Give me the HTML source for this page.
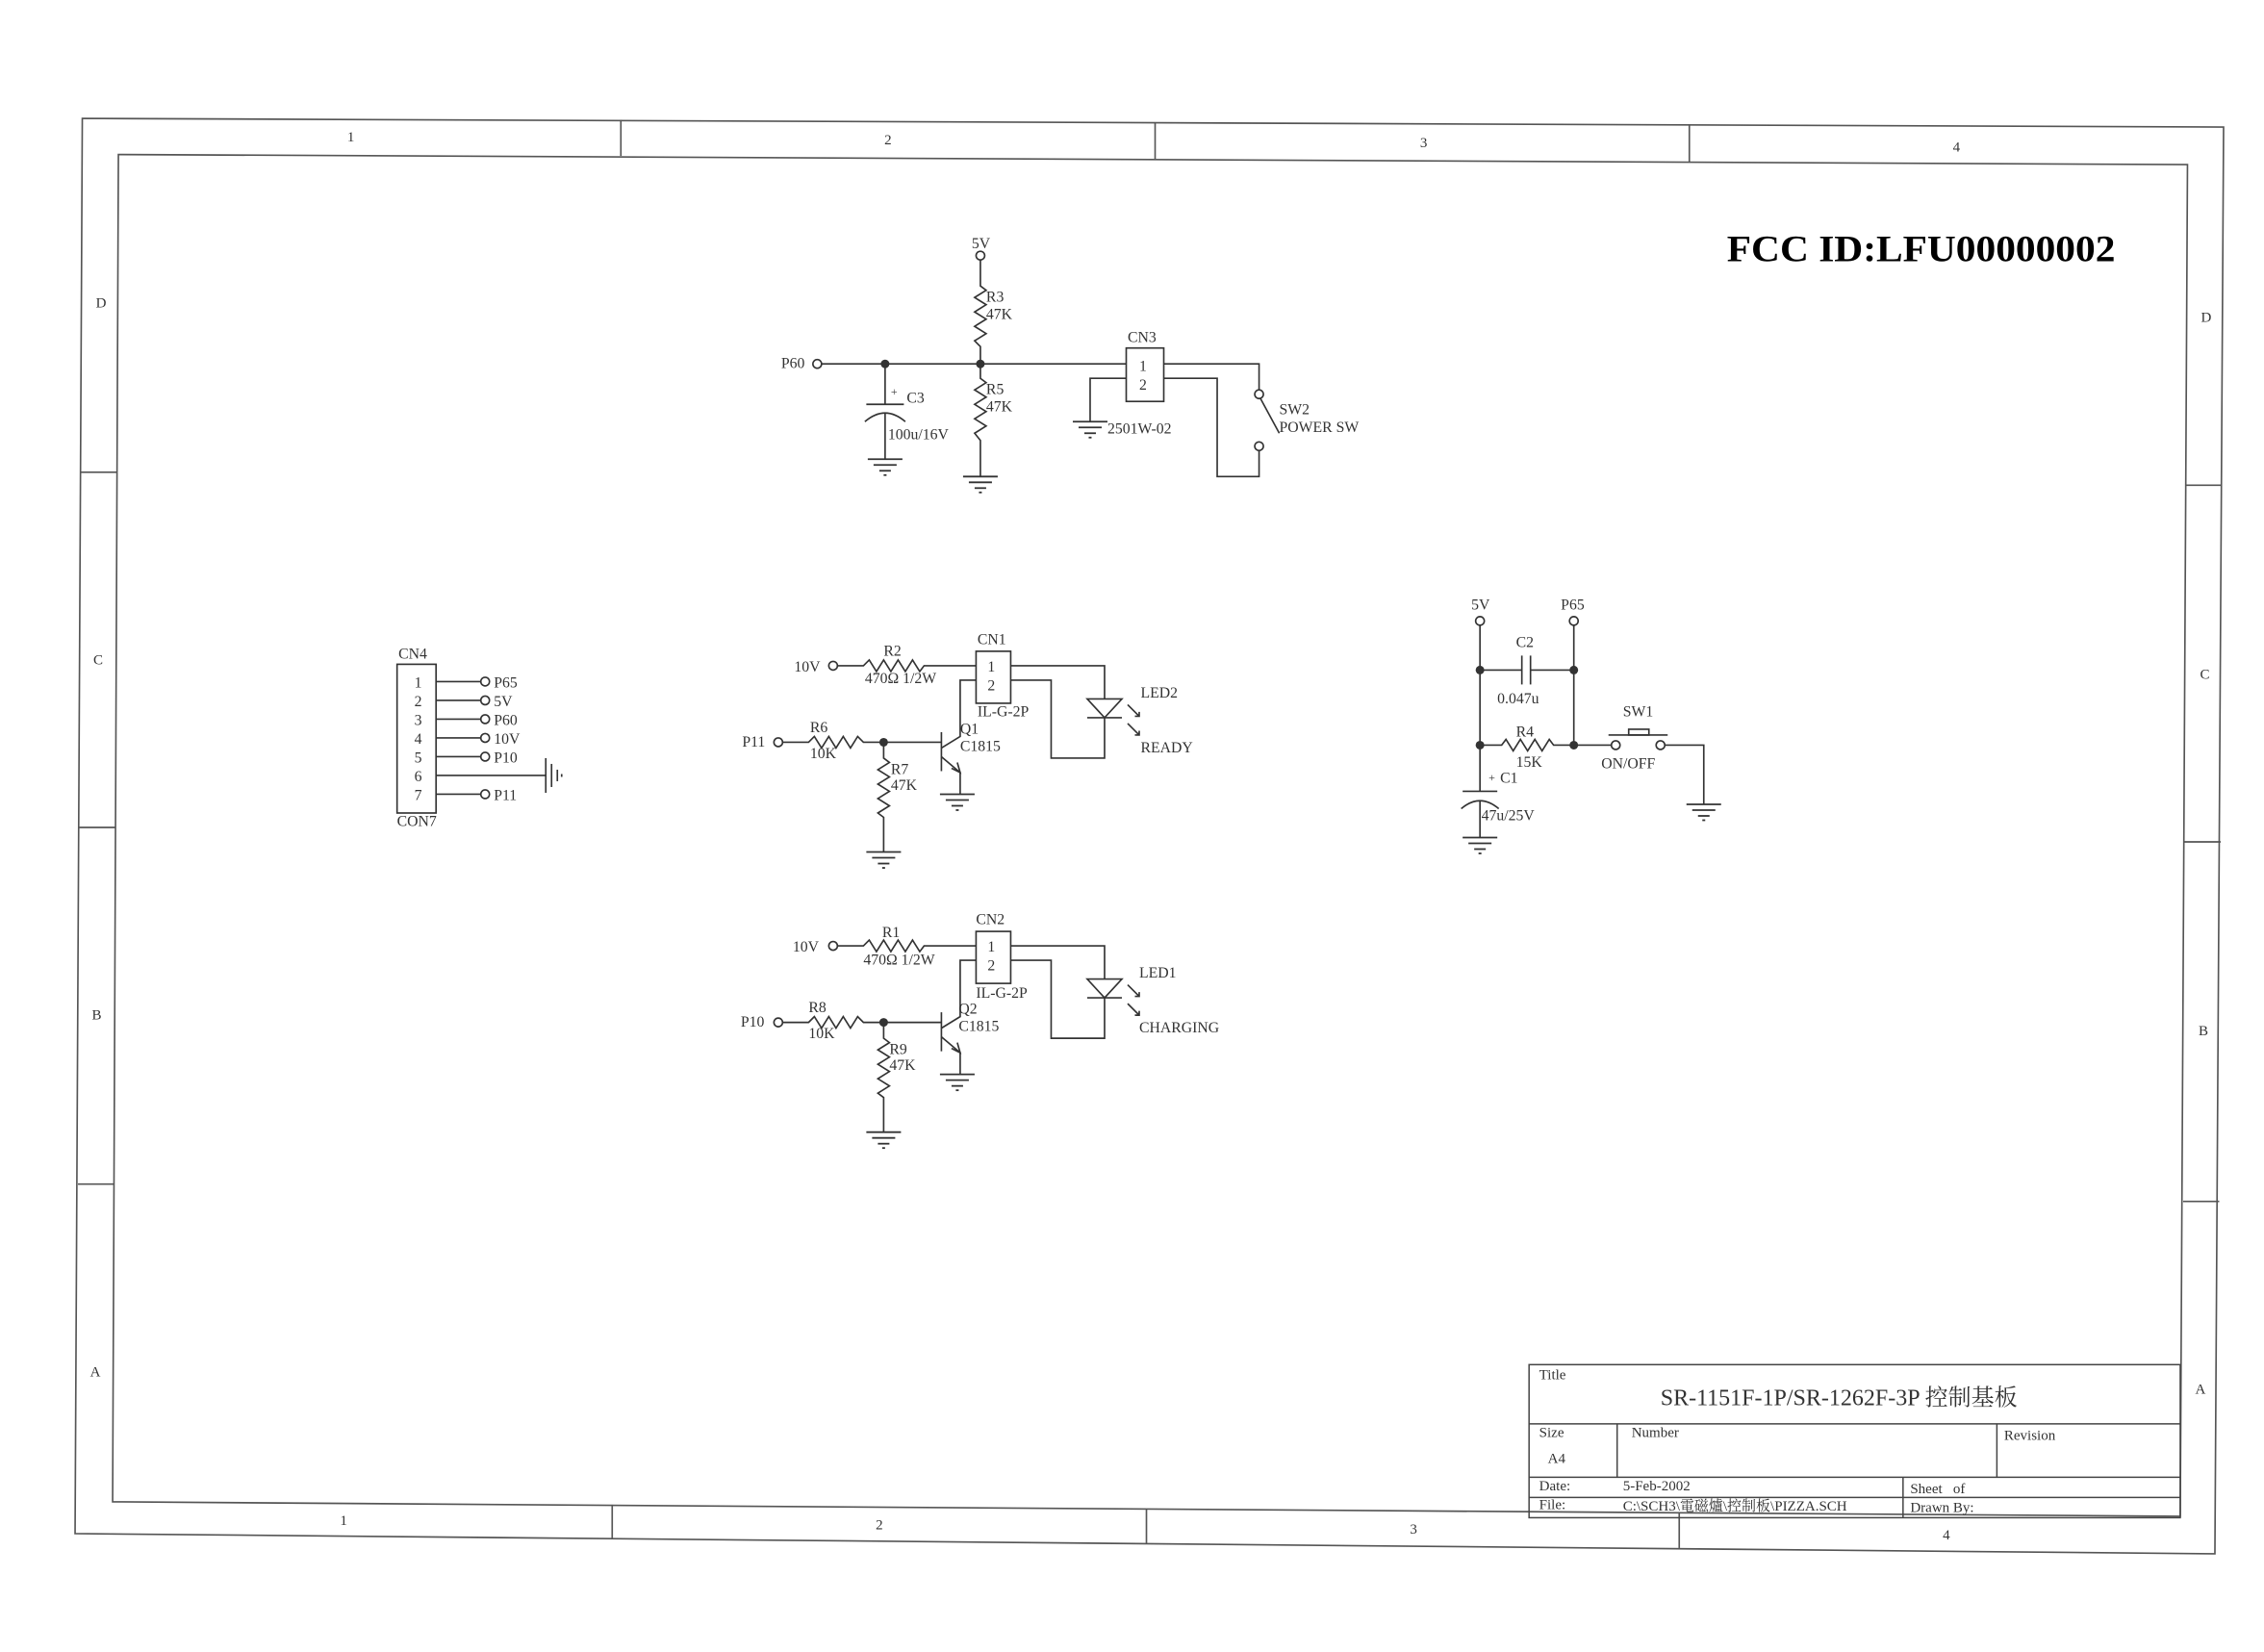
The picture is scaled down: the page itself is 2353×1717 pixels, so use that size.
<!DOCTYPE html>
<html><head><meta charset="utf-8"><style>
html,body{margin:0;padding:0;background:#fff;}
svg{display:block;}
text{font-family:"Liberation Serif","Noto Serif CJK SC",serif;fill:#333;}
</style></head><body>
<svg width="2353" height="1717" viewBox="0 0 1568 1144" preserveAspectRatio="none" xmlns="http://www.w3.org/2000/svg">
<defs>
<g id="gnd" stroke="#333" stroke-width="1.2" fill="none">
<line x1="-12" y1="0" x2="12" y2="0"/><line x1="-8" y1="4" x2="8" y2="4"/><line x1="-4" y1="8" x2="4" y2="8"/><line x1="-1" y1="11" x2="1" y2="11"/>
</g>
</defs>
<g stroke="#555" stroke-width="1.1" fill="none">
<polygon points="57,82 1540,88 1534,1076 52,1062"/>
<polygon points="82,107 1515,114 1510,1050 78,1040"/>
<line x1="430" y1="83" x2="430" y2="108"/><line x1="800" y1="85" x2="800" y2="110"/><line x1="1170" y1="86" x2="1170" y2="112"/>
<line x1="424" y1="1042" x2="424" y2="1066"/><line x1="794" y1="1045" x2="794" y2="1069"/><line x1="1163" y1="1047" x2="1163" y2="1072"/>
<line x1="56" y1="327" x2="81" y2="327"/><line x1="55" y1="573" x2="80" y2="573"/><line x1="54" y1="820" x2="79" y2="820"/>
<line x1="1514" y1="336" x2="1539" y2="336"/><line x1="1513" y1="583" x2="1538" y2="583"/><line x1="1512" y1="832" x2="1537" y2="832"/>
</g>
<g font-size="10" text-anchor="middle">
<text x="243" y="98">1</text><text x="615" y="100">2</text><text x="986" y="102">3</text><text x="1355" y="105">4</text>
<text x="238" y="1056">1</text><text x="609" y="1059">2</text><text x="979" y="1062">3</text><text x="1348" y="1066">4</text>
<text x="70" y="213">D</text><text x="68" y="460">C</text><text x="67" y="706">B</text><text x="66" y="953">A</text>
<text x="1528" y="223">D</text><text x="1527" y="470">C</text><text x="1526" y="717">B</text><text x="1524" y="965">A</text>
</g>
<text x="1196" y="181" font-size="26" font-weight="bold" textLength="269" lengthAdjust="spacingAndGlyphs" style="fill:#000">FCC ID:LFU00000002</text>

<!-- Title block -->
<g stroke="#444" stroke-width="1" fill="none">
<rect x="1059" y="945" width="451" height="106"/>
<line x1="1059" y1="986" x2="1510" y2="986"/><line x1="1059" y1="1023" x2="1510" y2="1023"/><line x1="1059" y1="1037" x2="1510" y2="1037"/>
<line x1="1120" y1="986" x2="1120" y2="1023"/><line x1="1383" y1="986" x2="1383" y2="1023"/><line x1="1318" y1="1023" x2="1318" y2="1051"/>
</g>
<g font-size="10">
<text x="1066" y="955">Title</text>
<text x="1150" y="973" font-size="16">SR-1151F-1P/SR-1262F-3P 控制基板</text>
<text x="1066" y="995">Size</text><text x="1130" y="995">Number</text><text x="1388" y="997">Revision</text>
<text x="1072" y="1013">A4</text>
<text x="1066" y="1032">Date:</text><text x="1124" y="1032">5-Feb-2002</text><text x="1323" y="1034">Sheet&#160;&#160;&#160;of</text>
<text x="1066" y="1045">File:</text><text x="1124" y="1046">C:\SCH3\電磁爐\控制板\PIZZA.SCH</text><text x="1323" y="1047">Drawn By:</text>
</g>

<!-- Schematic -->
<g stroke="#333" stroke-width="1.1" fill="none">
<circle cx="679" cy="177" r="3"/>
<polyline points="679,180 679,198 683,201 675,206 683,211 675,216 683,221 675,226 683,231 675,236 679,240 679,262 683,265 675,270 683,275 675,280 683,285 675,290 683,295 675,300 679,305 679,330"/>
<circle cx="566" cy="252" r="3"/>
<line x1="569" y1="252" x2="780" y2="252"/>
<line x1="613" y1="252" x2="613" y2="280"/>
<line x1="600" y1="280" x2="626" y2="280"/>
<path d="M599,292 Q613,280 627,292"/>
<line x1="613" y1="286" x2="613" y2="318"/>
<rect x="780" y="241" width="26" height="37"/>
<polyline points="806,252 872,252 872,270"/><circle cx="872" cy="273" r="3"/>
<polyline points="806,262 843,262 843,330 872,330 872,312"/><circle cx="872" cy="309" r="3"/>
<line x1="873" y1="276" x2="886" y2="300"/>
<polyline points="780,262 755,262 755,292"/>
<g id="drv">
<circle cx="577" cy="461" r="3"/>
<polyline points="580,461 598,461 602,457 607,465 612,457 617,465 622,457 627,465 632,457 637,465 640,461 676,461"/>
<rect x="676" y="451" width="24" height="36"/>
<polyline points="700,461 765,461 765,484"/>
<polygon points="753,484 777,484 765,497"/>
<line x1="753" y1="497" x2="777" y2="497"/>
<polyline points="765,497 765,525 728,525 728,471 700,471"/>
<polyline points="676,471 665,471 665,510 652,518"/>
<line x1="652" y1="507" x2="652" y2="534"/>
<polyline points="652,524 665,535 665,550"/>
<polyline points="659,532 665,535 663,528"/>
<circle cx="539" cy="514" r="3"/>
<polyline points="542,514 560,514 564,510 569,518 574,510 579,518 584,510 589,518 594,510 598,514 652,514"/>
<polyline points="612,514 612,525 616,528 608,533 616,538 608,543 616,548 608,553 616,558 608,563 612,566 612,590"/>
<use href="#gnd" x="663" y="550"/>
<use href="#gnd" x="612" y="590"/>
<path d="M781,488 l8,8 m-3,0 h3 v-3 M781,501 l8,8 m-3,0 h3 v-3"/>
</g>
<use href="#drv" y="194"/>
<rect x="275" y="460" width="27" height="103"/>
<line x1="302" y1="472" x2="333" y2="472"/><circle cx="336" cy="472" r="3"/>
<line x1="302" y1="485" x2="333" y2="485"/><circle cx="336" cy="485" r="3"/>
<line x1="302" y1="498" x2="333" y2="498"/><circle cx="336" cy="498" r="3"/>
<line x1="302" y1="511" x2="333" y2="511"/><circle cx="336" cy="511" r="3"/>
<line x1="302" y1="524" x2="333" y2="524"/><circle cx="336" cy="524" r="3"/>
<line x1="302" y1="537" x2="378" y2="537"/>
<line x1="378" y1="525" x2="378" y2="549"/><line x1="382" y1="529" x2="382" y2="545"/><line x1="386" y1="533" x2="386" y2="541"/><line x1="389" y1="536" x2="389" y2="538"/>
<line x1="302" y1="550" x2="333" y2="550"/><circle cx="336" cy="550" r="3"/>
<circle cx="1025" cy="430" r="3"/><circle cx="1090" cy="430" r="3"/>
<line x1="1025" y1="433" x2="1025" y2="548"/>
<line x1="1090" y1="433" x2="1090" y2="516"/>
<line x1="1025" y1="464" x2="1054" y2="464"/><line x1="1060" y1="464" x2="1090" y2="464"/>
<line x1="1054" y1="454" x2="1054" y2="474"/><line x1="1060" y1="454" x2="1060" y2="474"/>
<polyline points="1025,516 1040,516 1043,512 1048,520 1053,512 1058,520 1063,512 1068,520 1073,512 1076,516 1116,516"/>
<circle cx="1119" cy="516" r="3"/><circle cx="1150" cy="516" r="3"/>
<polyline points="1153,516 1180,516 1180,557"/>
<line x1="1114" y1="509" x2="1155" y2="509"/><rect x="1128" y="505" width="14" height="4"/>
<line x1="1013" y1="548" x2="1037" y2="548"/>
<path d="M1012,560 Q1025,549 1038,560"/>
<line x1="1025" y1="554" x2="1025" y2="580"/>
</g>
<use href="#gnd" x="679" y="330"/><use href="#gnd" x="613" y="318"/><use href="#gnd" x="755" y="292"/>
<use href="#gnd" x="1180" y="557"/><use href="#gnd" x="1025" y="580"/>
<g fill="#333">
<circle cx="613" cy="252" r="3"/><circle cx="679" cy="252" r="3"/>
<circle cx="612" cy="514" r="3"/><circle cx="612" cy="708" r="3"/>
<circle cx="1025" cy="464" r="3"/><circle cx="1090" cy="464" r="3"/><circle cx="1025" cy="516" r="3"/><circle cx="1090" cy="516" r="3"/>
</g>
<g font-size="10.5">
<text x="673" y="172">5V</text>
<text x="683" y="209">R3</text><text x="683" y="221">47K</text>
<text x="683" y="273">R5</text><text x="683" y="285">47K</text>
<text x="541" y="255">P60</text>
<text x="617" y="274" font-size="8">+</text><text x="628" y="279">C3</text><text x="615" y="304">100u/16V</text>
<text x="781" y="237">CN3</text><text x="789" y="257">1</text><text x="789" y="270">2</text>
<text x="767" y="300">2501W-02</text>
<text x="886" y="287">SW2</text><text x="886" y="299">POWER SW</text>

<text x="550" y="465">10V</text><text x="612" y="454">R2</text><text x="599" y="473">470Ω 1/2W</text>
<text x="677" y="446">CN1</text><text x="684" y="465">1</text><text x="684" y="478">2</text><text x="677" y="496">IL-G-2P</text>
<text x="790" y="483">LED2</text><text x="790" y="521">READY</text>
<text x="514" y="517">P11</text><text x="561" y="507">R6</text><text x="561" y="525">10K</text>
<text x="617" y="536">R7</text><text x="617" y="547">47K</text>
<text x="665" y="508">Q1</text><text x="665" y="520">C1815</text>

<text x="549" y="659">10V</text><text x="611" y="649">R1</text><text x="598" y="668">470Ω 1/2W</text>
<text x="676" y="640">CN2</text><text x="684" y="659">1</text><text x="684" y="672">2</text><text x="676" y="691">IL-G-2P</text>
<text x="789" y="677">LED1</text><text x="789" y="715">CHARGING</text>
<text x="513" y="711">P10</text><text x="560" y="701">R8</text><text x="560" y="719">10K</text>
<text x="616" y="730">R9</text><text x="616" y="741">47K</text>
<text x="664" y="702">Q2</text><text x="664" y="714">C1815</text>

<text x="276" y="456">CN4</text><text x="275" y="572">CON7</text>
<text x="287" y="476">1</text><text x="287" y="489">2</text><text x="287" y="502">3</text><text x="287" y="515">4</text><text x="287" y="528">5</text><text x="287" y="541">6</text><text x="287" y="554">7</text>
<text x="342" y="476">P65</text><text x="342" y="489">5V</text><text x="342" y="502">P60</text><text x="342" y="515">10V</text><text x="342" y="528">P10</text><text x="342" y="554">P11</text>

<text x="1019" y="422">5V</text><text x="1081" y="422">P65</text>
<text x="1050" y="448">C2</text><text x="1037" y="487">0.047u</text>
<text x="1050" y="510">R4</text><text x="1050" y="531">15K</text>
<text x="1124" y="496">SW1</text><text x="1109" y="532">ON/OFF</text>
<text x="1031" y="541" font-size="8">+</text><text x="1039" y="542">C1</text><text x="1026" y="568">47u/25V</text>
</g>
</svg>
</body></html>
